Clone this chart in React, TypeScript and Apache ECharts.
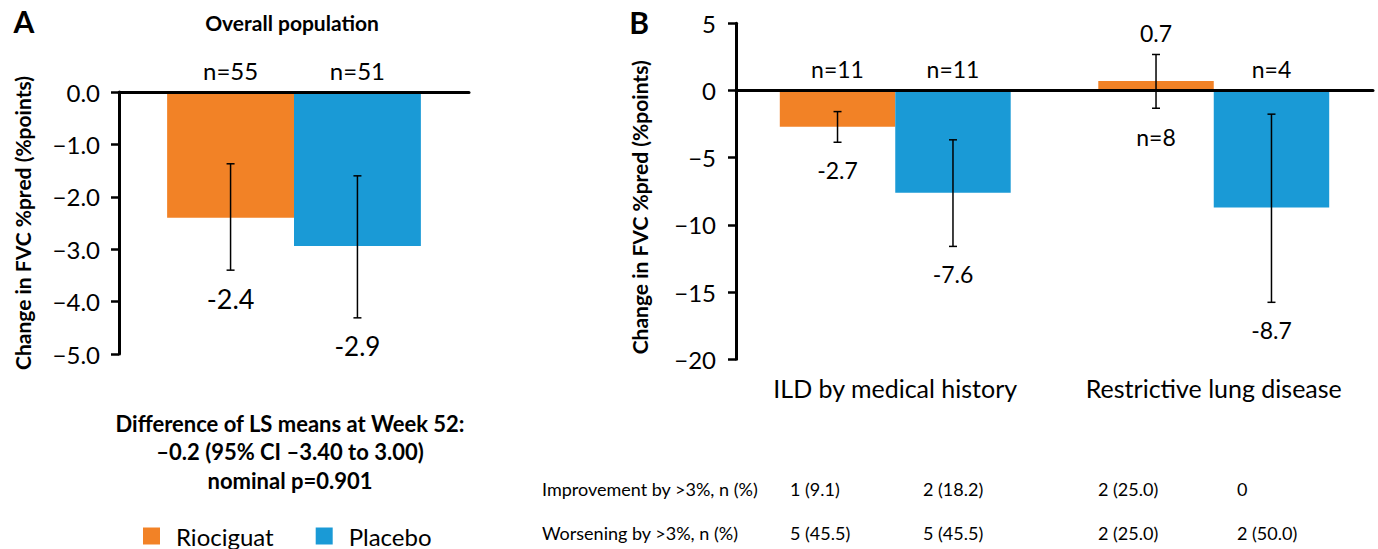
import React, { useEffect, useRef } from "react";
import * as echarts from "echarts";

const FONT = "Lato, 'Noto Sans', sans-serif";
const ORANGE = "#F28226";
const BLUE = "#1A9AD6";
const GAP = 0.275;

// Panel A
const catsA = ["Overall population"];
const riocA = [-2.4];
const plaA = [-2.94];
const riocALow = [-3.4];
const riocAHigh = [-1.37];
const plaALow = [-4.31];
const plaAHigh = [-1.6];
const nRiocA = [55];
const nPlaA = [51];

// Panel B
const catsB = ["ILD by medical history", "Restrictive lung disease"];
const riocB = [-2.7, 0.7];
const plaB = [-7.6, -8.7];
const riocBLow = [-3.85, -1.32];
const riocBHigh = [-1.57, 2.68];
const plaBLow = [-11.6, -15.76];
const plaBHigh = [-3.67, -1.76];
const nRiocB = [11, 8];
const nPlaB = [11, 4];

const yTicksA = { min: -5, max: 0, interval: 1 };
const yTicksB = { min: -20, max: 5, interval: 5 };

// Table under panel B
const tableRows = ["Improvement by >3%, n (%)", "Worsening by >3%, n (%)"];
const improvement = ["1 (9.1)", "2 (18.2)", "2 (25.0)", "0"];
const worsening = ["5 (45.5)", "5 (45.5)", "2 (25.0)", "2 (50.0)"];
const tableCols = [790, 923, 1098, 1237];

const noteLines = [
  "Difference of LS means at Week 52:",
  "\u20130.2 (95% CI \u20133.40 to 3.00)",
  "nominal p=0.901",
];

const yTitle = "Change in FVC %pred (%points)";

function errData(vals: number[], low: number[], high: number[], n: number[]) {
  return vals.map((v, i) => [i, low[i], high[i], v, n[i]]);
}

function makeRender(side: number, valFont: number, nFont: number) {
  return (params: any, api: any) => {
    const ci = api.value(0);
    const low = api.value(1);
    const high = api.value(2);
    const val = api.value(3);
    const n = api.value(4);
    const band = api.size([1, 0])[0];
    const bw = (band * (1 - GAP)) / 2;
    const base = api.coord([ci, 0]);
    const x = base[0] + (side * bw) / 2;
    const yLow = api.coord([ci, low])[1];
    const yHigh = api.coord([ci, high])[1];
    const cap = 4;
    const ls = { stroke: "#000", lineWidth: 1.5 };
    const txt = (t: string, y: number, size: number) => ({
      type: "text",
      x,
      y,
      style: {
        text: t,
        fill: "#000",
        font: `${size}px ${FONT}`,
        align: "center",
        verticalAlign: "middle",
        textAlign: "center",
        textVerticalAlign: "middle",
      },
    });
    let vY: number, nY: number;
    if (val < 0) {
      vY = yLow + 28;
      nY = base[1] - 22;
    } else {
      vY = yHigh - 21;
      nY = yLow + 29;
    }
    return {
      type: "group",
      children: [
        { type: "line", shape: { x1: x, y1: yHigh, x2: x, y2: yLow }, style: ls },
        { type: "line", shape: { x1: x - cap, y1: yHigh, x2: x + cap, y2: yHigh }, style: ls },
        { type: "line", shape: { x1: x - cap, y1: yLow, x2: x + cap, y2: yLow }, style: ls },
        txt(val.toFixed(1), vY, valFont),
        txt("n=" + n, nY, nFont),
      ],
    };
  };
}

const minus = (s: string) => s.replace("-", "\u2212");

export default function App() {
  const ref = useRef<HTMLDivElement>(null);
  useEffect(() => {
    const chart = echarts.init(ref.current!, null, { renderer: "svg" });
    const axisLineStyle = { color: "#000", width: 3 };
    const yAxisBase = {
      type: "value",
      axisLine: { show: true, lineStyle: axisLineStyle },
      axisTick: { show: true, length: 8, lineStyle: { color: "#000", width: 2.5 } },
      splitLine: { show: false },
      nameLocation: "middle",
      nameRotate: 90,
      nameTextStyle: { fontWeight: "bold", fontSize: 21, fontFamily: FONT, color: "#000" },
      name: yTitle,
    };
    const txt = (t: string, x: number, y: number, size: number, bold = false, align = "center") => ({
      type: "text",
      x,
      y,
      style: {
        text: t,
        fill: "#000",
        font: `${bold ? "bold " : ""}${size}px ${FONT}`,
        align,
        verticalAlign: "middle",
        textAlign: align,
        textVerticalAlign: "middle",
      },
    });
    const graphics: any[] = [
      txt("A", 24, 21, 30, true),
      txt("B", 639, 22, 30, true),
      txt("Overall population", 292, 22, 21, true),
      ...noteLines.map((l, i) => txt(l, 290, 423 + i * 28.5, 22, true)),
      ...tableRows.map((r, i) => txt(r, 542, 489 + i * 44, 18, false, "left")),
      ...improvement.map((v, i) => txt(v, tableCols[i], 489, 18, false, "left")),
      ...worsening.map((v, i) => txt(v, tableCols[i], 533, 18, false, "left")),
    ];
    chart.setOption({
      animation: false,
      backgroundColor: "#fff",
      textStyle: { fontFamily: FONT },
      grid: [
        { left: 119, top: 92, width: 350, height: 262 },
        { left: 736, top: 23.3, width: 637, height: 336 },
      ],
      legend: {
        data: ["Riociguat", "Placebo"],
        left: 143,
        top: 524,
        padding: 0,
        icon: "rect",
        itemWidth: 17,
        itemHeight: 17,
        itemGap: 42,
        textStyle: { fontSize: 24, fontFamily: FONT, color: "#000", padding: [0, 0, 0, 11] },
      },
      xAxis: [
        {
          gridIndex: 0,
          type: "category",
          data: catsA,
          position: "bottom",
          axisLine: { onZero: true, lineStyle: axisLineStyle },
          axisTick: { show: false },
          axisLabel: { show: false },
          z: 5,
        },
        {
          gridIndex: 1,
          type: "category",
          data: catsB,
          position: "bottom",
          axisLine: { onZero: true, lineStyle: axisLineStyle },
          axisTick: { show: false },
          axisLabel: { show: false },
          z: 5,
        },
        {
          gridIndex: 1,
          type: "category",
          data: catsB,
          position: "bottom",
          axisLine: { show: false, onZero: false },
          axisTick: { show: false },
          axisLabel: { interval: 0, fontSize: 25, fontFamily: FONT, color: "#000", margin: 16 },
        },
      ],
      yAxis: [
        {
          ...yAxisBase,
          gridIndex: 0,
          ...yTicksA,
          nameGap: 86,
          axisLabel: {
            fontSize: 24,
            fontFamily: FONT,
            color: "#000",
            margin: 19,
            formatter: (v: number) => minus(v.toFixed(1)),
          },
        },
        {
          ...yAxisBase,
          gridIndex: 1,
          ...yTicksB,
          nameGap: 86,
          nameTextStyle: { ...yAxisBase.nameTextStyle, padding: [0, 32, 0, 0] },
          axisLabel: {
            fontSize: 24,
            fontFamily: FONT,
            color: "#000",
            margin: 20,
            formatter: (v: number) => minus(String(v)),
          },
        },
      ],
      series: [
        { name: "Riociguat", type: "bar", xAxisIndex: 0, yAxisIndex: 0, data: riocA, itemStyle: { color: ORANGE }, barGap: "0%", barCategoryGap: GAP * 100 + "%" },
        { name: "Placebo", type: "bar", xAxisIndex: 0, yAxisIndex: 0, data: plaA, itemStyle: { color: BLUE }, barGap: "0%", barCategoryGap: GAP * 100 + "%" },
        { name: "Riociguat", type: "bar", xAxisIndex: 1, yAxisIndex: 1, data: riocB, itemStyle: { color: ORANGE }, barGap: "0%", barCategoryGap: GAP * 100 + "%" },
        { name: "Placebo", type: "bar", xAxisIndex: 1, yAxisIndex: 1, data: plaB, itemStyle: { color: BLUE }, barGap: "0%", barCategoryGap: GAP * 100 + "%" },
        { name: "Riociguat CI A", type: "custom", xAxisIndex: 0, yAxisIndex: 0, z: 6, clip: false, encode: { x: 0, y: [1, 2] }, data: errData(riocA, riocALow, riocAHigh, nRiocA), renderItem: makeRender(-1, 27, 24) },
        { name: "Placebo CI A", type: "custom", xAxisIndex: 0, yAxisIndex: 0, z: 6, clip: false, encode: { x: 0, y: [1, 2] }, data: errData(plaA, plaALow, plaAHigh, nPlaA), renderItem: makeRender(1, 26, 24) },
        { name: "Riociguat CI B", type: "custom", xAxisIndex: 1, yAxisIndex: 1, z: 6, clip: false, encode: { x: 0, y: [1, 2] }, data: errData(riocB, riocBLow, riocBHigh, nRiocB), renderItem: makeRender(-1, 23, 23) },
        { name: "Placebo CI B", type: "custom", xAxisIndex: 1, yAxisIndex: 1, z: 6, clip: false, encode: { x: 0, y: [1, 2] }, data: errData(plaB, plaBLow, plaBHigh, nPlaB), renderItem: makeRender(1, 23, 23) },
      ],
      graphic: graphics,
    });
    return () => chart.dispose();
  }, []);
  return (
    <div
      ref={ref}
      style={{ position: "absolute", left: 0, top: 0, width: 1378, height: 549, background: "#fff" }}
    />
  );
}
